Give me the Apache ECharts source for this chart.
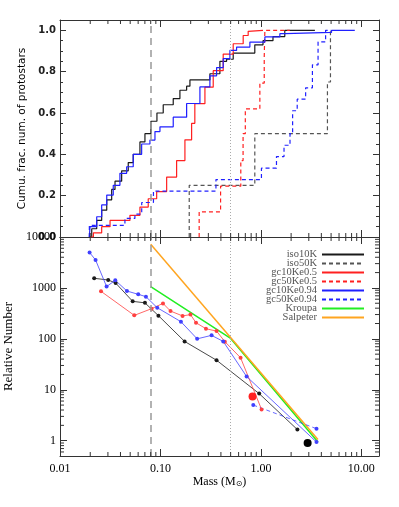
<!DOCTYPE html>
<html>
<head>
<meta charset="utf-8">
<script src="https://cdn.jsdelivr.net/npm/echarts/dist/echarts.min.js"></script>
<style>
  html, body { margin: 0; padding: 0; background: #fff; }
  #chart { width: 399px; height: 507px; }
</style>
</head>
<body>
<div id="chart"></div>
<script>
// top panel: cumulative fraction, [mass, fraction after the step]
const cdfIso10K = [[0.0196, 0], [0.0207, 0.04], [0.0232, 0.08], [0.026, 0.13], [0.0292, 0.18], [0.0327, 0.23],
  [0.0353, 0.27], [0.0411, 0.32], [0.0478, 0.36], [0.0536, 0.40], [0.0625, 0.46], [0.0701, 0.50], [0.0804, 0.56],
  [0.0923, 0.60], [0.1066, 0.64], [0.1341, 0.67], [0.1563, 0.71], [0.1823, 0.73], [0.1966, 0.76], [0.3108, 0.79],
  [0.3908, 0.85], [0.4558, 0.86], [0.5303, 0.89], [0.87, 0.93], [1.05, 0.95], [1.32, 0.97], [1.73, 1.0], [3.45, 1.0]]
const cdfIso50K = [[0.1935, 0], [0.1935, 0.25], [0.87, 0.5], [4.6, 0.75], [4.93, 1.0], [5.05, 1.0]]
const cdfGc10Ke05 = [[0.0199, 0], [0.0215, 0.02], [0.026, 0.05], [0.0315, 0.08], [0.0497, 0.105], [0.0625, 0.145],
  [0.0756, 0.185], [0.0917, 0.22], [0.1153, 0.29], [0.1449, 0.37], [0.1753, 0.47], [0.2044, 0.55], [0.22, 0.645],
  [0.2773, 0.725], [0.3354, 0.805], [0.4216, 0.885], [0.5303, 0.935], [0.6667, 0.975], [0.7475, 0.995],
  [0.7773, 1.0], [1.05, 1.0]]
const cdfGc50Ke05 = [[0.243, 0], [0.243, 0.122], [0.397, 0.246], [0.631, 0.37], [0.665, 0.5], [0.70, 0.62],
  [0.977, 0.745], [1.08, 0.87], [1.096, 1.0], [1.94, 1.0]]
const cdfGc10Ke094 = [[0.0196, 0], [0.0199, 0.05], [0.0232, 0.098], [0.026, 0.155], [0.0292, 0.203], [0.0339, 0.25],
  [0.0395, 0.308], [0.0461, 0.34], [0.0536, 0.40], [0.065, 0.45], [0.0786, 0.469], [0.0882, 0.51], [0.0989, 0.533],
  [0.1341, 0.58], [0.1823, 0.646], [0.2472, 0.726], [0.3108, 0.78], [0.3624, 0.82], [0.4216, 0.863], [0.4916, 0.903],
  [0.573, 0.919], [0.7773, 0.943], [1.096, 0.968], [1.545, 0.984], [1.733, 0.99], [5.05, 1.0], [8.61, 1.0]]
const cdfGc50Ke094 = [[0.0196, 0], [0.0196, 0.056], [0.0443, 0.09], [0.0557, 0.111], [0.0651, 0.167], [0.0852, 0.222],
  [0.357, 0.278], [1.013, 0.333], [1.43, 0.389], [1.70, 0.444], [1.95, 0.5], [2.07, 0.611], [2.30, 0.667],
  [2.79, 0.722], [3.26, 0.833], [3.71, 0.944], [4.41, 1.0], [5.0, 1.0]]

// bottom panel: relative number vs mass
const mfIso10K = [[0.0219, 1545], [0.0302, 1431], [0.0358, 1248], [0.0529, 545], [0.0701, 509], [0.0955, 285],
  [0.174, 89], [0.362, 38], [0.962, 8.4], [2.31, 1.65]]
const mfIso50K = [[2.92, 0.9]]
const mfGc10Ke05 = [[0.0256, 857], [0.0549, 289], [0.0817, 391], [0.106, 497], [0.126, 351], [0.166, 282],
  [0.199, 299], [0.226, 207], [0.284, 158], [0.362, 142], [0.438, 88], [0.628, 42.5], [1.016, 4.1]]
const mfGc50Ke05 = [[0.826, 7.35]]
const mfGc10Ke094 = [[0.0197, 4955], [0.0226, 3541], [0.0291, 1061], [0.0355, 1412], [0.0464, 869], [0.0601, 748],
  [0.0717, 674], [0.0929, 409], [0.160, 217], [0.232, 100], [0.323, 117], [0.422, 89], [0.721, 18.2], [3.58, 0.94]]
const mfGc50Ke094 = [[0.84, 5.0], [3.58, 1.72]]
const kroupa = [[0.08, 1060], [0.5, 102], [3.7, 0.94]]
const salpeter = [[0.08, 7200], [3.7, 1.05]]

const legendNames = ['iso10K', 'iso50K', 'gc10Ke0.5', 'gc50Ke0.5', 'gc10Ke0.94', 'gc50Ke0.94', 'Kroupa', 'Salpeter']
const massLines = [0.08, 0.5]

// minor tick values for the log axes
const tickSteps = [2, 3, 4, 5, 6, 7, 8, 9]
const xMinorTicks = [0.01, 0.1, 1, 10].flatMap(d => tickSteps.map(k => k * d)).filter(v => v < 15)
const yMinorTicks = [0.1, 1, 10, 100, 1000].flatMap(d => tickSteps.map(k => k * d)).filter(v => v > 0.5 && v < 10000)

const BLACK = '#1a1a1a'
const GREY = '#555'
const RED = '#ff2020'
const BLUE = '#2020ff'
const GREEN = '#22ee22'
const ORANGE = '#ffa520'
const axisColor = '#333'
const serif = 'Liberation Serif'

const isDecade = v => Math.abs(Math.log10(v) - Math.round(Math.log10(v))) < 1e-6

const xAxisFor = (gridIndex, position, labels) => ({
    type: 'log', gridIndex, position, min: 0.01, max: 15,
    axisLine: { onZero: false, lineStyle: { color: axisColor, width: 1 } },
    axisTick: { inside: true, length: 7, lineStyle: { color: axisColor } },
    axisLabel: labels ? {
        margin: 7, fontFamily: serif, fontSize: 12, color: '#000',
        formatter: v => isDecade(v) ? v.toFixed(2) : ''
    } : { show: false },
    splitLine: { show: false }
})

const fracAxis = (position, labels) => ({
    type: 'value', gridIndex: 0, position, min: 0, max: 1.05, interval: 0.2,
    axisLine: { onZero: false, lineStyle: { color: axisColor, width: 1 } },
    axisTick: { inside: true, length: 6, lineStyle: { color: axisColor } },
    minorTick: { show: true, splitNumber: 4, length: 3, lineStyle: { color: axisColor } },
    axisLabel: labels ? {
        margin: 4, fontFamily: 'DejaVu Sans', fontWeight: 'bold', fontSize: 10, color: '#222',
        formatter: v => Math.abs(v * 5 - Math.round(v * 5)) < 1e-6 ? v.toFixed(1) : ''
    } : { show: false },
    splitLine: { show: false }
})

const numAxis = (position, labels) => ({
    type: 'log', gridIndex: 1, position, min: 0.5, max: 10000,
    axisLine: { onZero: false, lineStyle: { color: axisColor, width: 1 } },
    axisTick: { inside: true, length: 7, lineStyle: { color: axisColor } },
    axisLabel: labels ? {
        margin: 4, fontFamily: serif, fontSize: 12, color: '#000',
        formatter: v => isDecade(v) ? String(Math.round(v)) : ''
    } : { show: false },
    splitLine: { show: false }
})

const markLines = {
    silent: true, symbol: ['none', 'none'], label: { show: false }, animation: false,
    data: [
        { xAxis: massLines[0], lineStyle: { color: '#999', width: 1.5, type: [7, 5] } },
        { xAxis: massLines[1], lineStyle: { color: '#aaa', width: 1, type: [1, 2] } }
    ]
}

const cdfLine = (name, data, color, dashed, withMarks) => ({
    name, type: 'line', xAxisIndex: 0, yAxisIndex: 0, data, step: 'end',
    symbol: 'none', lineStyle: { color, width: 1.2, type: dashed ? [4, 3] : 'solid' },
    itemStyle: { color },
    markLine: withMarks ? markLines : undefined
})

const mfLine = (name, data, color, dashed, size, withMarks) => ({
    name, type: 'line', xAxisIndex: 2, yAxisIndex: 2, data,
    symbol: 'circle', symbolSize: size, showSymbol: true,
    lineStyle: { color, width: 0.8, type: dashed ? [4, 3] : 'solid' },
    itemStyle: { color },
    markLine: withMarks ? markLines : undefined
})

const modelLine = (name, data, color) => ({
    name, type: 'line', xAxisIndex: 2, yAxisIndex: 2, data,
    symbol: 'none', lineStyle: { color, width: 1.5 }, itemStyle: { color }
})

// minor ticks on the log axes, placed through the axis scales
const xMinorSeries = (axisIdx, yVal) => ({
    type: 'custom', xAxisIndex: axisIdx, yAxisIndex: axisIdx, silent: true, clip: false, z: 5,
    data: xMinorTicks.map(v => [v, yVal]),
    renderItem: (params, api) => {
        const x = api.coord([api.value(0), api.value(1)])[0]
        const cs = params.coordSys
        const style = { stroke: axisColor, lineWidth: 1 }
        return {
            type: 'group', children: [
                { type: 'line', shape: { x1: x, y1: cs.y + cs.height, x2: x, y2: cs.y + cs.height - 4 }, style },
                { type: 'line', shape: { x1: x, y1: cs.y, x2: x, y2: cs.y + 4 }, style }
            ]
        }
    }
})

const yMinorSeries = {
    type: 'custom', xAxisIndex: 2, yAxisIndex: 2, silent: true, clip: false, z: 5,
    data: yMinorTicks.map(v => [1, v]),
    renderItem: (params, api) => {
        const y = api.coord([api.value(0), api.value(1)])[1]
        const cs = params.coordSys
        const style = { stroke: axisColor, lineWidth: 1 }
        return {
            type: 'group', children: [
                { type: 'line', shape: { x1: cs.x, y1: y, x2: cs.x + 4, y2: y }, style },
                { type: 'line', shape: { x1: cs.x + cs.width, y1: y, x2: cs.x + cs.width - 4, y2: y }, style }
            ]
        }
    }
}

const chart = echarts.init(document.getElementById('chart'))
chart.setOption({
    animation: false,
    backgroundColor: '#fff',
    grid: [
        { left: 60, top: 20, width: 319, height: 217, outerBoundsMode: 'none' },
        { left: 60, top: 237, width: 319, height: 219, outerBoundsMode: 'none' }
    ],
    xAxis: [
        xAxisFor(0, 'bottom', false),
        xAxisFor(0, 'top', false),
        Object.assign(xAxisFor(1, 'bottom', true), {
            name: 'Mass (M{s|⊙})', nameLocation: 'middle', nameGap: 16,
            nameTextStyle: {
                fontFamily: serif, fontSize: 12, color: '#000',
                rich: { s: { fontFamily: 'DejaVu Sans', fontSize: 8, padding: [5, 0, 0, 0] } }
            }
        }),
        xAxisFor(1, 'top', false)
    ],
    yAxis: [
        Object.assign(fracAxis('left', true), {
            name: 'Cumu. frac. num. of protostars', nameLocation: 'middle', nameGap: 25,
            nameTextStyle: { fontFamily: 'DejaVu Sans', fontSize: 10.5, color: '#000' }
        }),
        fracAxis('right', false),
        Object.assign(numAxis('left', true), {
            name: 'Relative Number', nameLocation: 'middle', nameGap: 41,
            nameTextStyle: { fontFamily: serif, fontSize: 13, color: '#000' }
        }),
        numAxis('right', false)
    ],
    legend: {
        data: legendNames, orient: 'vertical', align: 'right', right: 34, top: 249,
        itemWidth: 42, itemHeight: 9, itemGap: -2, padding: 0, selectedMode: false,
        textStyle: { fontFamily: serif, fontSize: 10.5, color: '#555' },
        itemStyle: { opacity: 0 }, lineStyle: { width: 2 }
    },
    series: [
        cdfLine('iso10K', cdfIso10K, BLACK, false, true),
        cdfLine('iso50K', cdfIso50K, GREY, true),
        cdfLine('gc10Ke0.5', cdfGc10Ke05, RED, false),
        cdfLine('gc50Ke0.5', cdfGc50Ke05, RED, true),
        cdfLine('gc10Ke0.94', cdfGc10Ke094, BLUE, false),
        cdfLine('gc50Ke0.94', cdfGc50Ke094, BLUE, true),
        modelLine('Kroupa', kroupa, GREEN),
        modelLine('Salpeter', salpeter, ORANGE),
        mfLine('iso10K', mfIso10K, BLACK, false, 4, true),
        mfLine('iso50K', mfIso50K, '#000', true, 8),
        mfLine('gc10Ke0.5', mfGc10Ke05, '#ff4040', false, 4),
        mfLine('gc50Ke0.5', mfGc50Ke05, RED, true, 8),
        mfLine('gc10Ke0.94', mfGc10Ke094, '#4040ff', false, 4),
        mfLine('gc50Ke0.94', mfGc50Ke094, '#4040ff', true, 4),
        xMinorSeries(0, 0.5),
        xMinorSeries(2, 1),
        yMinorSeries
    ]
})
</script>
</body>
</html>
